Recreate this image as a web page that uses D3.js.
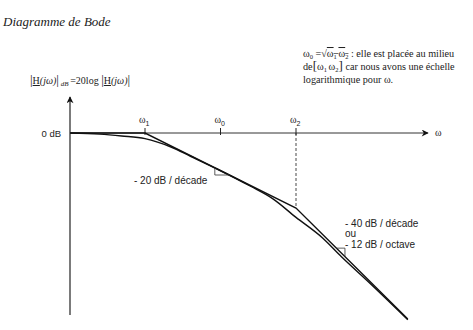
<!DOCTYPE html>
<html>
<head>
<meta charset="utf-8">
<script src="https://cdn.jsdelivr.net/npm/d3@7"></script>
<style>
  body { margin: 0; background: #fff; }
  .serif { font-family: "Liberation Serif", "DejaVu Serif", serif; fill: #222; }
  .sans { font-family: "Liberation Sans", Arial, sans-serif; fill: #222; }
</style>
</head>
<body>
<div class="wrap"></div>
<script>
// data (omega normalised so that w1 = 1, w2 = 10)
const realW  = [0.32, 0.5, 0.7, 1, 1.5, 2, 3, 5, 7, 10, 15, 20, 30, 55];
const realDb = [0, -0.3, -0.8, -1.5, -3.8, -6.2, -9.6, -14.2, -17.5, -22.5, -28, -33, -39.6, -49.8];

const asymW  = [0.32, 1, 10, 55];
const asymDb = [0, 0, -20, -49.6];

const ticks = [
  {w: 1, sub: "1"},
  {w: Math.sqrt(10), sub: "0"},
  {w: 10, sub: "2"}
];

// slope markers (corner points)
const slope1W  = [2.9, 2.9, 3.63];
const slope1Db = [-9.25, -11.2, -11.2];
const slope2W  = [18.5, 21.1, 21.1];
const slope2Db = [-30.7, -30.7, -33];

const width = 473, height = 330;

const svg = d3.select(".wrap")
  .append("svg")
  .attr("width", width)
  .attr("height", height);

let x = d3.scaleLog()
  .domain([1, 10])
  .range([145, 296]);

let y = d3.scaleLinear()
  .domain([0, -20])
  .range([133, 208]);

let line = d3.line()
  .x(d => x(d[0]))
  .y(d => y(d[1]));

svg.append("defs").append("marker")
  .attr("id", "arr")
  .attr("viewBox", "0 0 10 10")
  .attr("refX", 9).attr("refY", 5)
  .attr("markerWidth", 9).attr("markerHeight", 7)
  .attr("markerUnits", "userSpaceOnUse")
  .attr("orient", "auto")
  .append("path")
  .attr("d", "M0,0 L10,5 L0,10 L3,5 Z")
  .attr("fill", "#111");

// axes
svg.append("line")
  .attr("x1", 70).attr("y1", 315)
  .attr("x2", 70).attr("y2", 97)
  .attr("stroke", "#222").attr("stroke-width", 1.2)
  .attr("marker-end", "url(#arr)");

svg.append("line")
  .attr("x1", 70).attr("y1", y(0))
  .attr("x2", 428).attr("y2", y(0))
  .attr("stroke", "#333").attr("stroke-width", 1)
  .attr("marker-end", "url(#arr)");

svg.append("text")
  .attr("class", "serif")
  .attr("x", 435).attr("y", 136)
  .style("font-size", "10px")
  .text("ω");

svg.append("text")
  .attr("class", "sans")
  .attr("x", 61).attr("y", y(0) + 3.5)
  .attr("text-anchor", "end")
  .style("font-size", "9.5px")
  .text("0 dB");

// ticks on the omega axis
ticks.forEach(t => {
  svg.append("line")
    .attr("x1", x(t.w)).attr("x2", x(t.w))
    .attr("y1", y(0) - 5).attr("y2", y(0) + 2)
    .attr("stroke", "#222").attr("stroke-width", 1);

  let lab = svg.append("text")
    .attr("class", "serif")
    .attr("x", x(t.w) - 6).attr("y", 123)
    .style("font-size", "10px");
  lab.append("tspan").text("ω");
  lab.append("tspan").attr("dy", 3).style("font-size", "7px").attr("class", "sans").text(t.sub);
});

// dashed line at w2
svg.append("line")
  .attr("x1", x(10)).attr("x2", x(10))
  .attr("y1", y(0)).attr("y2", y(-20))
  .attr("stroke", "#333").attr("stroke-width", 0.9)
  .attr("stroke-dasharray", "3,2");

// asymptotes
svg.append("path")
  .datum(d3.zip(asymW, asymDb))
  .attr("d", line)
  .attr("fill", "none")
  .attr("stroke", "#111")
  .attr("stroke-width", 1.4);

// real curve
svg.append("path")
  .datum(d3.zip(realW, realDb))
  .attr("d", line.curve(d3.curveMonotoneX))
  .attr("fill", "none")
  .attr("stroke", "#111")
  .attr("stroke-width", 1.4);

line.curve(d3.curveLinear);

[[slope1W, slope1Db], [slope2W, slope2Db]].forEach(s => {
  svg.append("path")
    .datum(d3.zip(s[0], s[1]))
    .attr("d", line)
    .attr("fill", "none")
    .attr("stroke", "#333")
    .attr("stroke-width", 0.8);
});

// slope labels
svg.append("text")
  .attr("class", "sans")
  .attr("x", 134).attr("y", 184)
  .style("font-size", "10px")
  .text("- 20 dB / décade");

[["- 40 dB / décade", 227], ["ou", 237], ["- 12 dB / octave", 248]].forEach(l => {
  svg.append("text")
    .attr("class", "sans")
    .attr("x", 345).attr("y", l[1])
    .style("font-size", "10px")
    .text(l[0]);
});

// title
svg.append("text")
  .attr("class", "serif")
  .attr("x", 3).attr("y", 26)
  .style("font-size", "13px")
  .style("font-style", "italic")
  .text("Diagramme de Bode");

// formula |H(jw)|dB = 20log|H(jw)|
let f = svg.append("text")
  .attr("class", "serif")
  .attr("x", 30).attr("y", 84)
  .style("font-size", "10px");
f.append("tspan").style("font-size", "13px").text("|");
f.append("tspan").style("text-decoration", "underline").text("H");
f.append("tspan").style("font-style", "italic").text("(jω)");
f.append("tspan").style("font-size", "13px").text("|");
f.append("tspan").attr("dy", 2).style("font-size", "7px").style("font-style", "italic").text(" dB ");
f.append("tspan").attr("dy", -2).text("=20log ");
f.append("tspan").style("font-size", "13px").text("|");
f.append("tspan").style("text-decoration", "underline").text("H");
f.append("tspan").style("font-style", "italic").text("(jω)");
f.append("tspan").style("font-size", "13px").text("|");

// note on w0
let n1 = svg.append("text")
  .attr("class", "serif")
  .attr("x", 303).attr("y", 57)
  .style("font-size", "10.2px");
n1.append("tspan").text("ω");
n1.append("tspan").attr("dy", 2).style("font-size", "6.5px").text("0");
n1.append("tspan").attr("dy", -2).text(" =√");
n1.append("tspan").style("text-decoration", "overline").text("ω");
n1.append("tspan").attr("dy", 2).style("font-size", "6.5px").style("text-decoration", "overline").text("1 ");
n1.append("tspan").attr("dy", -2).style("text-decoration", "overline").text("ω");
n1.append("tspan").attr("dy", 2).style("font-size", "6.5px").style("text-decoration", "overline").text("2");
n1.append("tspan").attr("dy", -2).text(" : elle est placée au milieu");

let n2 = svg.append("text")
  .attr("class", "serif")
  .attr("x", 303).attr("y", 70)
  .style("font-size", "10.2px");
n2.append("tspan").text("de");
n2.append("tspan").style("font-size", "13px").text("[");
n2.append("tspan").text("ω");
n2.append("tspan").attr("dy", 2).style("font-size", "6.5px").text("1 ");
n2.append("tspan").attr("dy", -2).text("ω");
n2.append("tspan").attr("dy", 2).style("font-size", "6.5px").text("2");
n2.append("tspan").attr("dy", -2).style("font-size", "13px").text("]");
n2.append("tspan").text(" car nous avons une échelle");

svg.append("text")
  .attr("class", "serif")
  .attr("x", 303).attr("y", 83)
  .style("font-size", "10.2px")
  .text("logarithmique pour  ω.");
</script>
</body>
</html>
